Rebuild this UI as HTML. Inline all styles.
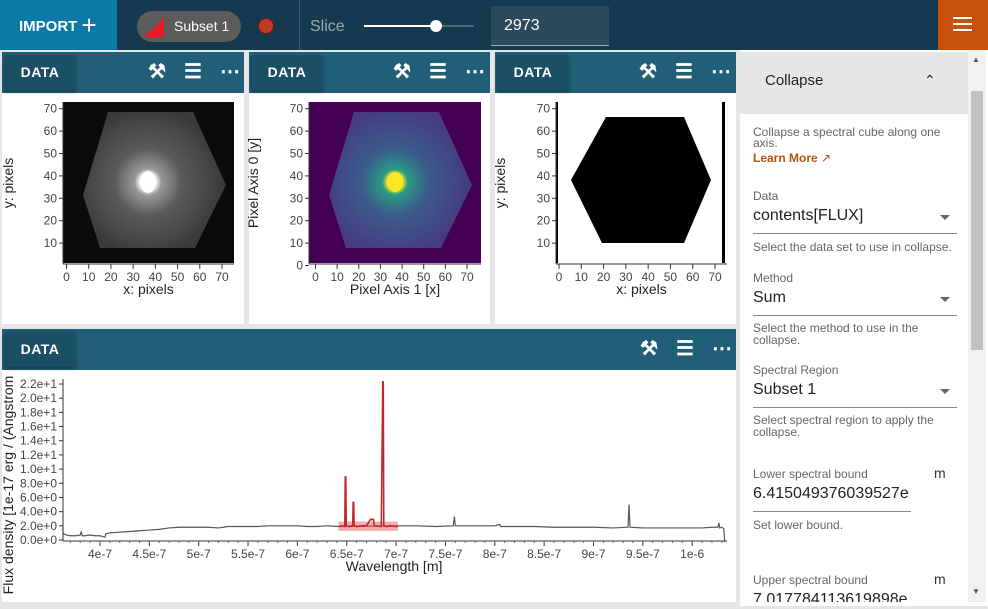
<!DOCTYPE html>
<html><head><meta charset="utf-8">
<style>
*{box-sizing:border-box;margin:0;padding:0}
body{width:988px;height:606px;overflow:hidden;background:#e6e6e6;font-family:"Liberation Sans",sans-serif;position:relative}
.abs{position:absolute}
.tb{position:absolute;background:#215f78;height:41px}
.databtn{position:absolute;left:2px;top:3px;width:72px;height:35px;background:#1b4f66;color:#fff;font-weight:bold;font-size:14px;line-height:35px;text-align:center;border-radius:2px;box-shadow:0 2px 3px rgba(0,0,0,.35);letter-spacing:.5px}
.ic{position:absolute;top:9px;color:#fff;font-size:20px;font-weight:bold;line-height:22px}
.panel{position:absolute;background:#fff}
.sb{position:absolute;font-size:12px;color:#666}
.lbl{position:absolute;font-size:12px;color:#666}
.val{position:absolute;font-size:16px;color:#222}
.ul{position:absolute;height:1px;background:#888}
.arr{position:absolute;width:0;height:0;border-left:5px solid transparent;border-right:5px solid transparent;border-top:5px solid #666}
</style></head><body>
<!-- top bar -->
<div class="abs" style="left:0;top:0;width:988px;height:50px;background:#153a4f"></div>
<div class="abs" style="left:0;top:0;width:117px;height:50px;background:#0b7ba6;color:#fff;font-weight:bold;font-size:15px;line-height:50px;padding-left:19px">IMPORT <span style="font-size:26px;vertical-align:-3px;font-weight:normal">+</span></div>
<div class="abs" style="left:137px;top:11px;width:104px;height:31px;background:#5c5c5c;border-radius:16px;color:#fff;font-size:14px;line-height:31px;padding-left:37px">Subset 1</div>
<svg class="abs" style="left:145px;top:17px" width="20" height="20"><polygon points="19,0 19,20 0,20" fill="#e02020"/></svg>
<div class="abs" style="left:258px;top:18px;width:16px;height:16px;border-radius:50%;background:#c0392b;border:1px solid #7a1a10"></div>
<div class="abs" style="left:299px;top:0;width:1px;height:50px;background:#3b5d70"></div>
<div class="abs" style="left:310px;top:18px;font-size:16px;color:#9aaab4">Slice</div>
<div class="abs" style="left:364px;top:25px;width:110px;height:2px;background:#4d6a7a"></div>
<div class="abs" style="left:364px;top:25px;width:72px;height:2px;background:#fff"></div>
<div class="abs" style="left:430px;top:20px;width:12px;height:12px;border-radius:50%;background:#fff"></div>
<div class="abs" style="left:491px;top:6px;width:118px;height:40px;background:#2b4a5c;border-bottom:1px solid #9ab;color:#fff;font-size:16px;line-height:40px;padding-left:13px">2973</div>
<div class="abs" style="left:938px;top:0;width:50px;height:50px;background:#c75109"><div style="position:absolute;left:15px;top:17px;width:19px;height:2px;background:#fff;box-shadow:0 6px 0 #fff,0 12px 0 #fff"></div></div>

<!-- image panels -->
<div class="panel" style="left:2px;top:52px;width:242px;height:272px"></div>
<div class="panel" style="left:249px;top:52px;width:241px;height:272px"></div>
<div class="panel" style="left:495px;top:52px;width:241px;height:272px"></div>
<div class="panel" style="left:2px;top:329px;width:734px;height:273px"></div>

<div class="tb" style="left:2px;top:52px;width:242px"><div class="databtn">DATA</div><div class="ic" style="left:146px">⚒</div><div class="ic" style="left:182px">☰</div><div class="ic" style="left:218px">⋯</div></div>
<div class="tb" style="left:249px;top:52px;width:241px"><div class="databtn">DATA</div><div class="ic" style="left:144px">⚒</div><div class="ic" style="left:180px">☰</div><div class="ic" style="left:216px">⋯</div></div>
<div class="tb" style="left:495px;top:52px;width:241px"><div class="databtn">DATA</div><div class="ic" style="left:144px">⚒</div><div class="ic" style="left:180px">☰</div><div class="ic" style="left:216px">⋯</div></div>
<div class="tb" style="left:2px;top:329px;width:734px"><div class="databtn">DATA</div><div class="ic" style="left:638px">⚒</div><div class="ic" style="left:674px">☰</div><div class="ic" style="left:710px">⋯</div></div>

<svg class="abs" style="left:0;top:0" width="740" height="606" id="imgs">
<defs>
<radialGradient id="g1" cx="148" cy="182" r="75" gradientUnits="userSpaceOnUse"><stop offset="0" stop-color="#fff"/><stop offset=".1" stop-color="#fff"/><stop offset=".18" stop-color="#999"/><stop offset=".45" stop-color="#5a5a5a"/><stop offset="1" stop-color="#3a3a3a"/></radialGradient>
<radialGradient id="g2" cx="395" cy="182" r="75" gradientUnits="userSpaceOnUse"><stop offset="0" stop-color="#fde725"/><stop offset=".1" stop-color="#fde725"/><stop offset=".17" stop-color="#2a9a83"/><stop offset=".45" stop-color="#3b5b8c"/><stop offset="1" stop-color="#463a80"/></radialGradient>
</defs>
<rect x="63" y="102" width="171" height="161" fill="#0b0b0b"/>
<polygon points="108,112 193,112 226,185 195,248 100,248 83,195" fill="url(#g1)"/>
<ellipse cx="148" cy="182" rx="8" ry="11" fill="#fff"/>
<rect x="309" y="102" width="172" height="161" fill="#440154"/>
<polygon points="354,112 439,112 472,185 441,248 346,248 329,195" fill="url(#g2)"/>
<ellipse cx="395" cy="182" rx="8" ry="10" fill="#fde725"/>
<polygon points="606,117 684,117 711,180 684,243 602,243 571,180" fill="#000"/>
<rect x="722" y="102" width="3" height="161" fill="#000"/>
<rect x="556" y="102" width="2" height="161" fill="#000"/>
</svg>

<!-- sidebar -->
<div class="abs" style="left:740px;top:50px;width:248px;height:556px;background:#fff"></div>
<div class="abs" style="left:740px;top:52px;width:228px;height:62px;background:#e6e6e6;font-size:15px;color:#222;line-height:58px;padding-left:25px">Collapse<span style="position:absolute;left:184px;top:-1px;font-size:14px">&#8963;</span></div>
<div class="abs" style="left:968px;top:50px;width:18px;height:552px;background:#f1f1f1"></div>
<div class="abs" style="left:971px;top:91px;width:12px;height:259px;background:#c1c1c1"></div>
<div class="abs" style="left:972px;top:55px;font-size:8px;color:#555">▲</div>
<div class="abs" style="left:972px;top:587px;font-size:8px;color:#555">▼</div>
<div class="sb" style="left:753px;top:127px;width:200px;line-height:11px">Collapse a spectral cube along one axis.</div>
<div class="abs" style="left:753px;top:151px;font-size:12px;font-weight:bold;color:#b5530f">Learn More <span style="font-weight:normal">↗</span></div>
<div class="lbl" style="left:753px;top:189px">Data</div>
<div class="val" style="left:753px;top:207px">contents[FLUX]</div>
<div class="arr" style="left:940px;top:215px"></div>
<div class="ul" style="left:753px;top:233px;width:204px"></div>
<div class="sb" style="left:753px;top:240px">Select the data set to use in collapse.</div>
<div class="lbl" style="left:753px;top:271px">Method</div>
<div class="val" style="left:753px;top:289px">Sum</div>
<div class="arr" style="left:940px;top:297px"></div>
<div class="ul" style="left:753px;top:315px;width:204px"></div>
<div class="sb" style="left:753px;top:322px;width:200px;line-height:12px">Select the method to use in the collapse.</div>
<div class="lbl" style="left:753px;top:363px">Spectral Region</div>
<div class="val" style="left:753px;top:381px">Subset 1</div>
<div class="arr" style="left:940px;top:389px"></div>
<div class="ul" style="left:753px;top:407px;width:204px"></div>
<div class="sb" style="left:753px;top:414px;width:200px;line-height:12px">Select spectral region to apply the collapse.</div>
<div class="lbl" style="left:753px;top:467px">Lower spectral bound</div>
<div class="abs" style="left:934px;top:465px;font-size:14px;color:#333">m</div>
<div class="val" style="left:753px;top:485px;width:158px;overflow:hidden;white-space:nowrap">6.415049376039527e</div>
<div class="ul" style="left:753px;top:511px;width:158px"></div>
<div class="sb" style="left:753px;top:518px">Set lower bound.</div>
<div class="lbl" style="left:753px;top:573px">Upper spectral bound</div>
<div class="abs" style="left:934px;top:571px;font-size:14px;color:#333">m</div>
<div class="val" style="left:753px;top:591px;width:158px;overflow:hidden;white-space:nowrap">7.017784113619898e</div>
<div class="abs" style="left:740px;top:602px;width:248px;height:4px;background:#fff"></div>

<svg class="abs" style="left:0;top:0" width="740" height="606" id="spec"></svg>

<script>
// ---- image axes data ----
const imgTicks=[0,10,20,30,40,50,60,70];
const imgYTicks1=[10,20,30,40,50,60,70];
const imgYTicks2=[0,10,20,30,40,50,60,70];
// ---- spectrum data (wavelength in 1e-7 m, flux in 1e-17 units) ----
const specWl=[3.62,3.63,3.66,3.7,3.75,3.8,3.81,3.82,3.85,3.9,3.95,4.0,4.05,4.06,4.1,4.2,4.3,4.4,4.5,4.6,4.7,4.8,4.9,5.0,5.1,5.2,5.3,5.4,5.5,5.6,5.7,5.8,5.9,6.0,6.1,6.2,6.3,6.42,7.02,7.2,7.4,7.58,7.59,7.6,7.8,8.0,8.05,8.06,8.2,8.4,8.6,8.8,9.0,9.2,9.35,9.36,9.37,9.5,9.7,9.9,10.1,10.2,10.26,10.27,10.28,10.3,10.32,10.33];
const specFlux=[1.6,0.9,0.7,0.6,0.6,0.7,1.2,0.6,0.6,0.7,0.6,0.6,0.4,0.9,1.0,1.1,1.2,1.3,1.4,1.5,1.7,1.8,1.8,1.8,1.8,1.7,1.9,1.9,1.9,1.9,2.0,2.0,2.0,2.0,1.9,1.9,2.0,1.9,2.0,2.0,1.9,2.0,3.3,2.0,2.0,2.0,2.2,1.9,1.9,1.9,1.8,1.8,1.8,1.7,1.8,5.0,1.8,1.7,1.7,1.7,1.7,1.8,1.8,2.4,1.7,1.8,1.6,-0.3];
const subWl=[6.42,6.45,6.48,6.485,6.49,6.495,6.52,6.56,6.565,6.57,6.575,6.6,6.65,6.7,6.74,6.75,6.77,6.78,6.8,6.85,6.865,6.87,6.875,6.9,6.95,7.0,7.02];
const subFlux=[1.9,2.0,1.9,8.9,8.9,2.0,1.9,2.0,5.3,5.3,2.0,1.9,2.0,2.0,2.9,2.9,2.9,2.0,2.0,1.9,22.3,22.3,2.0,1.9,2.0,1.9,2.0];
const subRange=[6.415,7.018];
const yTicks=[0,2,4,6,8,10,12,14,16,18,20,22];
const yTickLabels=["0.0e+0","2.0e+0","4.0e+0","6.0e+0","8.0e+0","1.0e+1","1.2e+1","1.4e+1","1.6e+1","1.8e+1","2.0e+1","2.2e+1"];
const xTicks=[4,4.5,5,5.5,6,6.5,7,7.5,8,8.5,9,9.5,10];
const xTickLabels=["4e-7","4.5e-7","5e-7","5.5e-7","6e-7","6.5e-7","7e-7","7.5e-7","8e-7","8.5e-7","9e-7","9.5e-7","1e-6"];

const NS="http://www.w3.org/2000/svg";
function mk(svg,tag,attrs,txt){const e=document.createElementNS(NS,tag);for(const k in attrs)e.setAttribute(k,attrs[k]);if(txt!==undefined)e.textContent=txt;svg.appendChild(e);return e;}

// image axes
const imgs=document.getElementById('imgs');
const imgCfg=[
 {x0:66.5,x1:222,left:63,right:234,yt:imgYTicks1,xl:'x: pixels',yl:'y: pixels',ylx:13},
 {x0:315.5,x1:467,left:309,right:481,yt:imgYTicks2,xl:'Pixel Axis 1 [x]',yl:'Pixel Axis 0 [y]',ylx:258},
 {x0:559,x1:715,left:556,right:727,yt:imgYTicks1,xl:'x: pixels',yl:'y: pixels',ylx:505}
];
function iy(v){return 265.5-2.24*v;}
imgCfg.forEach((c,i)=>{
 const ix=v=>c.x0+(c.x1-c.x0)*v/70;
 const a=mk(imgs,'line',{x1:c.left,x2:c.right,y1:264,y2:264,stroke:'#333'});
 
 
 mk(imgs,'line',{x1:c.left,x2:c.left,y1:102,y2:264,stroke:'#333'});
 imgTicks.forEach(t=>{
  mk(imgs,'line',{x1:ix(t),x2:ix(t),y1:264,y2:269,stroke:'#333'});
  const tl=mk(imgs,'text',{x:ix(t),y:281,'font-size':12,'text-anchor':'middle',fill:'#444'},String(t));
  
  
 });
 c.yt.forEach(t=>{
  mk(imgs,'line',{x1:c.left-4,x2:c.left,y1:iy(t),y2:iy(t),stroke:'#333'});
  const tl=mk(imgs,'text',{x:c.left-6,y:iy(t)+4,'font-size':12,'text-anchor':'end',fill:'#444'},String(t));
  
  
 });
 const xl=mk(imgs,'text',{x:(c.left+c.right)/2,y:294,'font-size':14,'text-anchor':'middle',fill:'#222'},c.xl);
 
 
 const yl=mk(imgs,'text',{x:0,y:0,'font-size':14,'text-anchor':'middle',fill:'#222',transform:`translate(${c.ylx},183) rotate(-90)`},c.yl);
 
 
});

// spectrum
const sp=document.getElementById('spec');
const L=63,R=725,Y0=540,YT=384;
const sx=w=>100+(w-4)*98.7;
const sy=f=>Y0-(f/22)*(Y0-YT);
mk(sp,'line',{x1:L,x2:L,y1:379,y2:541,stroke:'#333'});
mk(sp,'line',{x1:L,x2:R+2,y1:541,y2:541,stroke:'#333'});
yTicks.forEach((t,i)=>{
 mk(sp,'line',{x1:L-4,x2:L,y1:sy(t),y2:sy(t),stroke:'#333'});
 const tl=mk(sp,'text',{x:L-6,y:sy(t)+4,'font-size':12,'text-anchor':'end',fill:'#444'},yTickLabels[i]);
 
 
});
xTicks.forEach((t,i)=>{
 mk(sp,'line',{x1:sx(t),x2:sx(t),y1:541,y2:546,stroke:'#333'});
 const tl=mk(sp,'text',{x:sx(t),y:558,'font-size':12,'text-anchor':'middle',fill:'#444'},xTickLabels[i]);
 
 
});
for(let w=3.7;w<10.33;w+=0.1){mk(sp,'line',{x1:sx(w),x2:sx(w),y1:541,y2:543,stroke:'#666'});}
const xt=mk(sp,'text',{x:394,y:571,'font-size':14,'text-anchor':'middle',fill:'#222'},'Wavelength [m]');


const yt=mk(sp,'text',{x:0,y:0,'font-size':14,'text-anchor':'middle',fill:'#222',transform:'translate(13,485) rotate(-90)'},'Flux density [1e-17 erg / (Angstrom');


const line=mk(sp,'polyline',{points:specWl.map((w,i)=>sx(w)+','+sy(specFlux[i])).join(' '),fill:'none',stroke:'#555','stroke-width':1.2});


const band=mk(sp,'rect',{x:sx(subRange[0]),y:sy(2.6),width:sx(subRange[1])-sx(subRange[0]),height:sy(1.3)-sy(2.6),fill:'#e8686a','fill-opacity':0.55});


const sub=mk(sp,'polyline',{points:subWl.map((w,i)=>sx(w)+','+sy(subFlux[i])).join(' '),fill:'none',stroke:'#c0282b','stroke-width':1.6});


</script>
</body></html>
